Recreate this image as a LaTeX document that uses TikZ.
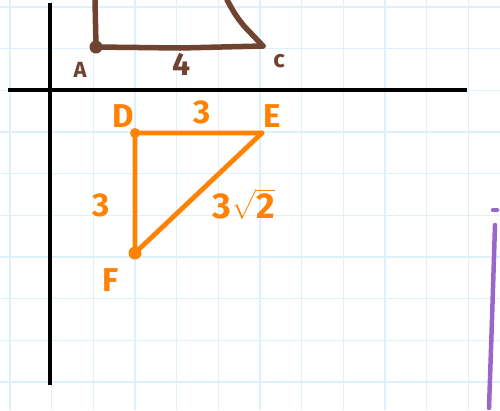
\documentclass[tikz,border=0pt]{standalone}
\usepackage{exscale}
\usepackage{fontspec}
\setmainfont{Fira Sans}
\usepackage{xcolor}
\usepackage{tikz}
\usetikzlibrary{positioning,calc}

\definecolor{gridblue}{HTML}{DDF1FA}
\definecolor{inkbrown}{HTML}{6E4430}
\definecolor{inkorange}{HTML}{FF8205}
\definecolor{inkpurple}{HTML}{9A66CC}

\tikzset{
    dotpt/.style={circle, fill, inner sep=0pt, minimum size=#1},
    lbl/.style={font=\fontsize{#1}{#1}\selectfont\bfseries},
    lbl/.default=33,
    ink/.style={line width=#1, line cap=round, line join=round}
}

\begin{document}
\begin{tikzpicture}[x=1pt, y=-1pt]
    \useasboundingbox (0,0) rectangle (500,410);
    % grid paper
    \foreach \i in {0,...,11}
        \draw[gridblue, line width=1.2] (10+\i*41.67,0) -- (10+\i*41.67,410);
    \foreach \j in {0,...,9}
        \draw[gridblue, line width=1.2] (0,7+\j*41.67) -- (500,7+\j*41.67);

    % axes
    \draw[black, line width=3.5] (8,90) -- (467,90);
    \draw[black, line width=3.5] (50,3) -- (50,385);

    % brown triangle (cut off at top)
    \node[dotpt=13pt, inkbrown] (A) at (96,47) {};
    \coordinate (C) at (263,46);
    \coordinate (Btop) at (95,0);
    \coordinate (Stop) at (227,0);
    \draw[inkbrown, ink=5.5] (Btop) -- (A.center) -- (180,48) -- (C);
    \draw[inkbrown, ink=5.5] (Stop) .. controls (236,16) .. (244,26) -- (C);
    \node[inkbrown, lbl=22] (labA) at (80,70) {A};
    \node[inkbrown, lbl=32] (labAC) at (182,64) {4};
    \node[inkbrown, lbl=24] (labC) at (279,61) {c};

    % orange triangle
    \node[dotpt=10pt, inkorange] (D) at (135,133) {};
    \node[dotpt=5pt, inkorange] (E) at (262,133) {};
    \node[dotpt=13pt, inkorange] (F) at (135,253) {};
    \draw[inkorange, ink=4.8] (D.center) -- (E.center) -- (F.center) -- cycle;
    \node[inkorange, lbl] (labD) at (123,116) {D};
    \node[inkorange, lbl] (labE) at (272,116) {E};
    \node[inkorange, lbl] (labF) at (111,280) {F};
    \node[inkorange, lbl] (labDE) at (202,112) {3};
    \node[inkorange, lbl] (labDF) at (101,205) {3};
    \node[inkorange, lbl=36] (labEF) at (244,204) {3$\sqrt{\mbox{2}}$};

    % purple bracket at right edge
    \coordinate (P0) at (493,210);
    \coordinate (P1) at (497,210);
    \coordinate (P2) at (495,225);
    \coordinate (P3) at (489,408);
    \draw[inkpurple, ink=4.5] (P0) -- (P1);
    \draw[inkpurple, ink=4.5] (P2) .. controls (492,320) .. (P3);
\end{tikzpicture}
\end{document}
